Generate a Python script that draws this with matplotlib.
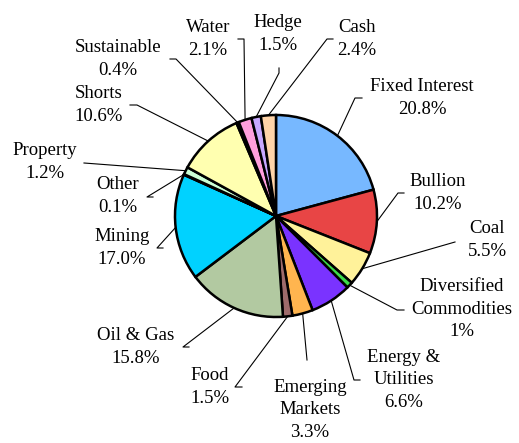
import matplotlib
matplotlib.use('Agg')
import matplotlib.pyplot as plt
import numpy as np

### data
labels = ['Fixed Interest', 'Bullion', 'Coal', 'Diversified\nCommodities', 'Energy &\nUtilities',
          'Emerging\nMarkets', 'Food', 'Oil & Gas', 'Mining', 'Other', 'Property', 'Shorts',
          'Sustainable', 'Water', 'Hedge', 'Cash']
pct_text = ['20.8%', '10.2%', '5.5%', '1%', '6.6%', '3.3%', '1.5%', '15.8%', '17.0%', '0.1%',
            '1.2%', '10.6%', '0.4%', '2.1%', '1.5%', '2.4%']
values = [20.8, 10.2, 5.5, 1.0, 6.6, 3.3, 1.5, 15.8, 17.0, 0.1, 1.2, 10.6, 0.4, 2.1, 1.5, 2.4]
colors = ['#77b8ff', '#e84545', '#fff29a', '#3ddc4a', '#7a33ff', '#ffb54f', '#9e6b6b', '#b2c9a1',
          '#00d2ff', '#555555', '#ccffd6', '#ffffb0', '#222222', '#ff9fdc', '#c8a8ff', '#ffd4a8']

### layout (pixel coords, y down)
W, H = 519, 443
cx, cy, R = 276, 216, 101
# text centre, elbow point, tail point of leader
txt_pos = [(422, 98), (438, 193), (487, 240), (462, 309), (404, 380), (310, 410), (210, 387),
           (136, 347), (122, 248), (118, 196), (45, 162), (99, 105), (118, 59), (208, 39),
           (278, 34), (357, 39)]
elbow = [(355, 98), (398, 193), (455, 242), (397, 310), (354, 380), (307, 360), (235, 387),
         (183, 347), (157, 248), (147, 197), (84, 163), (137, 105), (176, 59), (244, 39),
         (279, 73), (327, 39)]
tail = [(362, 98), (404, 193), (455, 242), (404, 310), (360, 380), (307, 360), (242, 387),
        (189, 347), (163, 248), (153, 197), (84, 163), (130, 105), (170, 59), (238, 39),
        (279, 68), (333, 39)]

def fy(y):
    return H - y

plt.rcParams['font.family'] = 'serif'
plt.rcParams['font.serif'] = ['Liberation Serif', 'DejaVu Serif']
fig = plt.figure(figsize=(W / 100, H / 100), dpi=100)
ax = fig.add_axes([0, 0, 1, 1])
wedges, _ = ax.pie(values, colors=colors, startangle=90, counterclock=False,
                   center=(cx, fy(cy)), radius=R,
                   wedgeprops=dict(edgecolor='black', linewidth=1.8))

for i, w in enumerate(wedges):
    ang = np.deg2rad((w.theta1 + w.theta2) / 2)
    px = cx + R * np.cos(ang)
    py = fy(cy) + R * np.sin(ang)
    ex, ey = elbow[i]
    tx, ty = tail[i]
    ax.plot([px, ex, tx], [py, fy(ey), fy(ty)], color='black', lw=0.8, zorder=0)
    x, y = txt_pos[i]
    ax.text(x, fy(y), labels[i] + '\n' + pct_text[i], ha='center', va='center',
            fontsize=13.5, linespacing=1.45)

ax.set_xlim(0, W)
ax.set_ylim(0, H)
ax.set_aspect('equal')
ax.axis('off')
fig.savefig('out.png', dpi=100)
